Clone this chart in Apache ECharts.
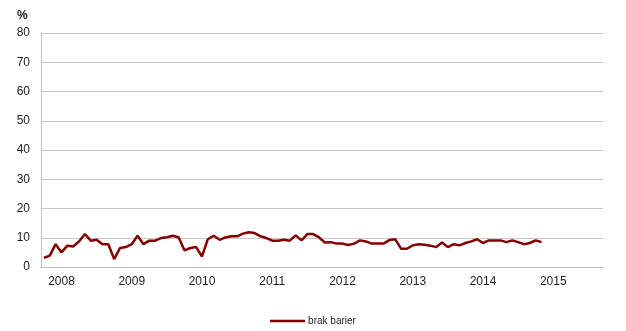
<!DOCTYPE html>
<html><head><meta charset="utf-8">
<script src="https://cdn.jsdelivr.net/npm/echarts@6/dist/echarts.min.js"></script>
<style>html,body{margin:0;padding:0;background:#fff}#c{width:626px;height:331px}</style>
</head><body><div id="c"></div>
<script>
// Monthly categories from Oct 2007 to Sep 2015
const months = [];
for (let y = 2007; y <= 2015; y++) {
  for (let m = 1; m <= 12; m++) {
    if ((y === 2007 && m < 10) || (y === 2015 && m > 9)) continue;
    months.push(y + '-' + (m < 10 ? '0' + m : m));
  }
}
const seriesName = 'brak barier';
const values = [
  3.1, 3.9, 7.8, 5.0, 7.3, 7.0, 8.75, 11.25, 9.0, 9.3, 7.8, 7.8,
  2.7, 6.5, 6.8, 7.8, 10.7, 7.8, 9.0, 9.0, 9.9, 10.2, 10.7, 10.2,
  5.7, 6.5, 6.8, 3.6, 9.5, 10.7, 9.3, 10.1, 10.5, 10.5, 11.4, 11.9,
  11.6, 10.5, 9.9, 9.0, 9.0, 9.3, 9.0, 10.8, 9.1, 11.25, 11.25, 10.1,
  8.4, 8.5, 8.0, 8.0, 7.5, 8.0, 9.1, 8.75, 8.0, 8.0, 8.0, 9.2,
  9.5, 6.25, 6.25, 7.4, 7.8, 7.6, 7.3, 6.8, 8.4, 6.8, 7.8, 7.4,
  8.2, 8.75, 9.5, 8.2, 9.1, 9.1, 9.1, 8.5, 9.1, 8.5, 7.8, 8.2,
  9.1, 8.5
];
const yTicks = [0, 10, 20, 30, 40, 50, 60, 70, 80];

const chart = echarts.init(document.getElementById('c'), null, {renderer: 'canvas'});
chart.setOption({
  animation: false,
  textStyle: {fontFamily: 'Liberation Sans, Arial, sans-serif'},
  grid: {left: 41, right: 23, top: 33, bottom: 64},
  graphic: [{type: 'text', left: 17, top: 10, style: {text: '%', fontSize: 12, fontWeight: 'bold', fill: '#222', fontFamily: 'Liberation Sans, Arial, sans-serif'}}],
  legend: {
    bottom: 5, left: 'center', padding: 0,
    itemWidth: 35, itemHeight: 10, itemGap: 10,
    icon: 'path://M0,3.8 L35,3.8 L35,6.2 L0,6.2 Z',
    textStyle: {fontSize: 10, color: '#222', padding: [0, 0, 0, -2]},
    data: [seriesName]
  },
  xAxis: {
    type: 'category', data: months, boundaryGap: true,
    axisLine: {show: true, lineStyle: {color: '#bfbfbf'}},
    axisTick: {show: false},
    axisLabel: {
      interval: (i, v) => v.endsWith('-01'),
      formatter: v => v.slice(0, 4),
      fontSize: 12, color: '#222', margin: 9
    },
    splitLine: {show: false}
  },
  yAxis: {
    type: 'value', min: 0, max: 80, interval: 10,
    axisLine: {show: true, lineStyle: {color: '#bfbfbf'}},
    axisTick: {show: false},
    axisLabel: {fontSize: 12, color: '#222', margin: 11,
      formatter: v => yTicks.includes(v) ? String(v) : ''},
    splitLine: {lineStyle: {color: '#c8c8c8'}}
  },
  series: [{
    name: seriesName, type: 'line', data: values,
    symbol: 'none', smooth: false,
    lineStyle: {color: '#840000', width: 2.5},
    itemStyle: {color: '#840000'}
  }]
});
</script></body></html>
